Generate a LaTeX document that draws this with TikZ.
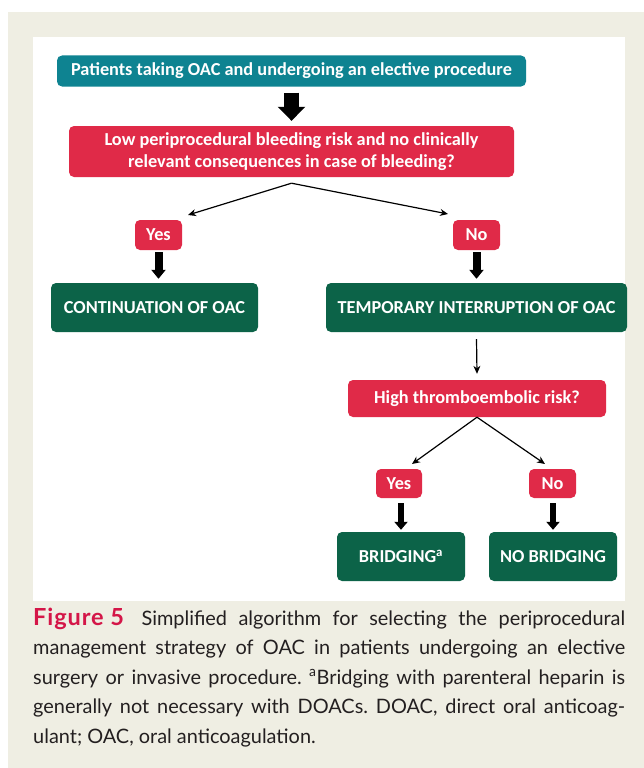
\documentclass[tikz,border=0pt]{standalone}
\usepackage{fontspec}
\setmainfont{Lato}
\newfontfamily\boxfont{Carlito}
\newfontfamily\figfont[LetterSpace=4]{Lato}
\usetikzlibrary{arrows.meta}
\definecolor{beige}{RGB}{239,238,227}
\definecolor{tealc}{RGB}{14,131,145}
\definecolor{redc}{RGB}{224,42,72}
\definecolor{greenc}{RGB}{12,99,72}
\definecolor{figred}{RGB}{212,22,72}
\definecolor{captxt}{RGB}{35,31,32}
\frenchspacing
\begin{document}
\begin{tikzpicture}[x=1pt,y=-1pt,
  box/.style={rounded corners=5pt, text=white, inner sep=0pt, align=center,
    font=\boxfont\bfseries\fontsize{18.3}{22}\selectfont},
  tealbox/.style={box, fill=tealc},
  redbox/.style={box, fill=redc},
  greenbox/.style={box, fill=greenc},
  bigarrow/.style={line width=15pt, -{Triangle[width=27pt,length=14pt]}},
  midarrow/.style={line width=8pt, -{Triangle[width=14pt,length=9pt]}},
  smallarrow/.style={line width=6.5pt, -{Triangle[width=13pt,length=8pt]}},
  thinarrow/.style={line width=1.2pt, -{Stealth[width=7pt,length=8pt]}},
]
\useasboundingbox (0,0) rectangle (644,768);
\fill[white] (0,0) rectangle (644,768);
\fill[beige] (8,12) rectangle (644,768);
\fill[white] (33,37) rectangle (625,601);

\node[tealbox, minimum width=469pt, minimum height=31pt] (start) at (291.5,71)
  {Patients taking OAC and undergoing an elective procedure};
\node[redbox, minimum width=445pt, minimum height=51pt] (q1) at (291.5,151.5)
  {Low periprocedural bleeding risk and no clinically\\relevant consequences in case of bleeding?};
\node[redbox, minimum width=47pt, minimum height=30pt] (yes1) at (158.5,235) {Yes};
\node[redbox, minimum width=47pt, minimum height=30pt] (no1) at (476.5,235) {No};
\node[greenbox, minimum width=207pt, minimum height=49pt] (cont) at (154.5,307.5) {CONTINUATION OF OAC};
\node[greenbox, minimum width=301pt, minimum height=49pt] (temp) at (476.5,307.5) {TEMPORARY INTERRUPTION OF OAC};
\node[redbox, minimum width=258pt, minimum height=37pt] (q2) at (477,398.5) {High thromboembolic risk?};
\node[redbox, minimum width=46pt, minimum height=29pt] (yes2) at (399,483.5) {Yes};
\node[redbox, minimum width=47pt, minimum height=29pt] (no2) at (552.5,483.5) {No};
\node[greenbox, minimum width=128pt, minimum height=49pt] (brid) at (401,556.5) {BRIDGING\textsuperscript{a}};
\node[greenbox, minimum width=128pt, minimum height=49pt] (nobrid) at (553,556.5) {NO BRIDGING};

\coordinate (a1) at (188,215);
\coordinate (a2) at (448,214);
\coordinate (b1) at (412,464);
\coordinate (b2) at (545,464);

\draw[bigarrow] ([yshift=-6pt]start.south) -- ([yshift=5pt]q1.north);
\draw[thinarrow] ([yshift=-6pt]q1.south) -- (a1);
\draw[thinarrow] ([yshift=-6pt]q1.south) -- (a2);
\draw[midarrow] ([yshift=-2pt]yes1.south) -- ([yshift=4pt]yes1.south |- cont.north);
\draw[midarrow] ([yshift=-2pt]no1.south) -- ([yshift=4pt]temp.north);
\draw[thinarrow] ([yshift=-7pt]temp.south) -- ([yshift=6pt]q2.north);
\draw[thinarrow] (q2.south) -- (b1);
\draw[thinarrow] (q2.south) -- (b2);
\draw[smallarrow] ([yshift=-5pt]brid.north |- yes2.south) -- ([yshift=2pt]brid.north);
\draw[smallarrow] ([yshift=-5pt]nobrid.north |- no2.south) -- ([yshift=2pt]nobrid.north);

\node[anchor=base west, inner sep=0pt, text width=592pt, align=justify, text=captxt,
  font=\fontsize{19.9}{29.5}\selectfont] (cap) at (33,625)
  {\mbox{\color{figred}\figfont\bfseries\fontsize{23.5}{29.5}\selectfont Figure 5}\hspace{6pt} Simplified algorithm for selecting the periprocedural\linebreak
  management strategy of OAC in patients undergoing an elective\linebreak
  surgery or invasive procedure. \textsuperscript{a}Bridging with parenteral heparin is\linebreak
  generally not necessary with DOACs. DOAC, direct oral anticoag-\linebreak
  ulant; OAC, oral anticoagulation.};
\end{tikzpicture}
\end{document}
